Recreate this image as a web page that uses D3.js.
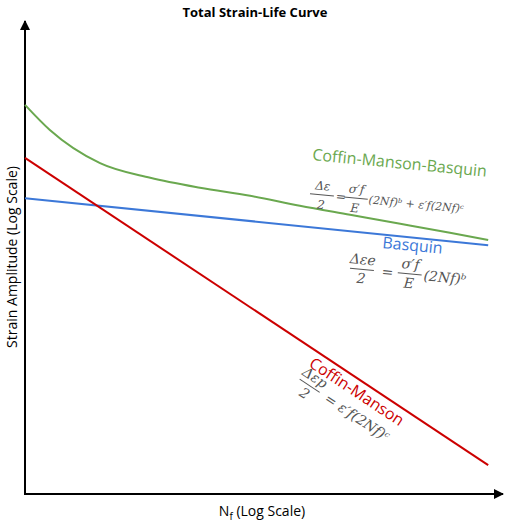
<!DOCTYPE html>
<html><head><meta charset="utf-8">
<script src="https://cdn.jsdelivr.net/npm/d3@7"></script>
<style>body{margin:0;background:#fff}text{font-family:"Open Sans",sans-serif}
.fm text{font-family:"DejaVu Serif",serif;font-style:italic}</style>
</head><body>
<script>
// log N / log strain in arbitrary decade units
const greenX = [0, 0.52, 1.57, 2.62, 3.66, 4.71, 5.75, 6.80, 7.85, 8.89, 9.69];
const greenY = [8.21, 7.68, 6.98, 6.67, 6.46, 6.29, 6.08, 5.89, 5.70, 5.51, 5.36];
const blueX = [0, 9.69], blueY = [6.24, 5.25];
const redX = [0, 9.69], redY = [7.09, 0.61];

const w = 506, h = 525;
const svg = d3.select("body").append("svg").attr("width", w).attr("height", h);
const x = d3.scaleLinear().domain([0, 10]).range([25, 503]);
const y = d3.scaleLinear().domain([0, 10]).range([494, 20]);

svg.append("defs").append("marker").attr("id", "ar")
  .attr("viewBox", "0 0 10 10").attr("refX", 9).attr("refY", 5)
  .attr("markerWidth", 10).attr("markerHeight", 10).attr("markerUnits", "userSpaceOnUse")
  .attr("orient", "auto")
  .append("path").attr("d", "M0,0L10,5L0,10z").attr("fill", "#000");

svg.append("line").attr("x1", 25).attr("y1", 494).attr("x2", 25).attr("y2", 21)
  .attr("stroke", "#000").attr("stroke-width", 2).attr("marker-end", "url(#ar)");
svg.append("line").attr("x1", 24).attr("y1", 494).attr("x2", 503).attr("y2", 494)
  .attr("stroke", "#000").attr("stroke-width", 2).attr("marker-end", "url(#ar)");

const line = d3.line().x(d => x(d[0])).y(d => y(d[1])).curve(d3.curveMonotoneX);
const series = [[greenX, greenY, "#6aa84f"], [blueX, blueY, "#3c78d8"], [redX, redY, "#cc0000"]];
series.forEach(s => {
  svg.append("path").datum(d3.zip(s[0], s[1])).attr("d", line)
    .attr("fill", "none").attr("stroke", s[2]).attr("stroke-width", 2);
});

svg.append("text").attr("x", 255).attr("y", 17).attr("text-anchor", "middle")
  .attr("font-size", 13).attr("font-weight", "bold").text("Total Strain-Life Curve");
svg.append("text").attr("transform", "translate(17,257) rotate(-90)").attr("text-anchor", "middle")
  .attr("font-size", 14).text("Strain Amplitude (Log Scale)");
const xl = svg.append("text").attr("x", 262).attr("y", 516).attr("text-anchor", "middle").attr("font-size", 14);
xl.append("tspan").text("N");
xl.append("tspan").attr("font-size", 10).attr("dy", 4).text("f");
xl.append("tspan").attr("dy", -4).text(" (Log Scale)");

svg.append("text").attr("transform", "translate(312,160) rotate(5.5)").attr("font-size", 16)
  .attr("fill", "#6aa84f").text("Coffin-Manson-Basquin");
svg.append("text").attr("transform", "translate(382,248) rotate(5.5)").attr("font-size", 16)
  .attr("fill", "#3c78d8").text("Basquin");
svg.append("text").attr("transform", "translate(308,366) rotate(33.5)").attr("font-size", 16)
  .attr("fill", "#cc0000").text("Coffin-Manson");

// formulas
function frac(g, cx, num, den) {
  g.append("text").attr("x", cx).attr("y", -5).attr("text-anchor", "middle").text(num);
  g.append("line").attr("x1", cx - 12).attr("x2", cx + 12).attr("y1", 0).attr("y2", 0)
    .attr("stroke", "#555").attr("stroke-width", 1);
  g.append("text").attr("x", cx).attr("y", 14).attr("text-anchor", "middle").text(den);
}
function formula(tr, size, parts) {
  const g = svg.append("g").attr("class", "fm").attr("transform", tr)
    .attr("font-size", size).attr("fill", "#555");
  parts(g);
}
formula("translate(312,194) rotate(5.5)", 12, g => {
  frac(g, 10, "Δε", "2");
  g.append("text").attr("x", 24).attr("y", 4).text("=");
  frac(g, 44, "σ′f", "E");
  g.append("text").attr("x", 57).attr("y", 4).attr("font-size", 11).text("(2Nf)ᵇ + ε′f(2Nf)ᶜ");
});
formula("translate(348,268) rotate(5.5)", 14, g => {
  frac(g, 14, "Δεe", "2");
  g.append("text").attr("x", 34).attr("y", 5).text("=");
  frac(g, 62, "σ′f", "E");
  g.append("text").attr("x", 76).attr("y", 5).text("(2Nf)ᵇ");
});
formula("translate(298,378) rotate(33.5)", 14, g => {
  frac(g, 14, "Δεp", "2");
  g.append("text").attr("x", 34).attr("y", 5).text("= ε′f(2Nf)ᶜ");
});
</script>
</body></html>
